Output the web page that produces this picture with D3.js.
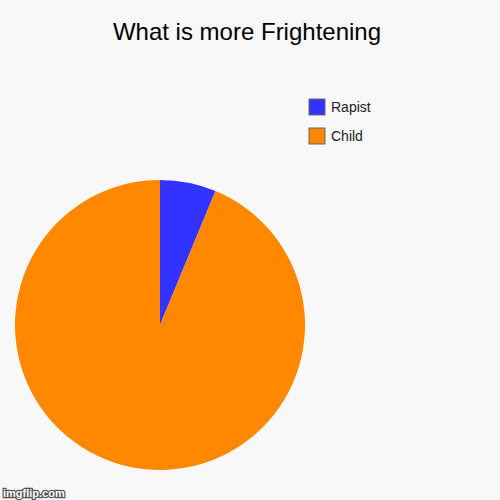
<!DOCTYPE html>
<html>
<head>
<meta charset="utf-8">
<script src="https://cdn.jsdelivr.net/npm/d3@7"></script>
<style>
  body { margin: 0; background: #f8f8f8; }
  svg { display: block; font-family: "Liberation Sans", Arial, sans-serif; }
</style>
</head>
<body>
<svg id="chart" width="500" height="500"></svg>
<script>
const labels = ["Rapist", "Child"];
const values = [1, 15];
const colors = ["#3333ff", "#ff8800"];

const svg = d3.select("#chart");
svg.append("rect").attr("width", 500).attr("height", 500).attr("fill", "#f8f8f8");

svg.append("text")
    .attr("x", 247).attr("y", 40)
    .attr("text-anchor", "middle")
    .style("font-size", "24px")
    .attr("fill", "#000")
    .text("What is more Frightening");

const pie = d3.pie().sort(null).value(d => d);
const arc = d3.arc().innerRadius(0).outerRadius(145);

const g = svg.append("g").attr("transform", "translate(160,325)");
g.selectAll("path")
    .data(pie(values))
    .enter().append("path")
    .attr("d", arc)
    .attr("fill", (d, i) => colors[i]);

const legend = svg.append("g").attr("transform", "translate(309,99)");
const item = legend.selectAll("g")
    .data(labels)
    .enter().append("g")
    .attr("transform", (d, i) => `translate(0,${i * 29})`);

item.append("rect")
    .attr("width", 16).attr("height", 16)
    .attr("fill", (d, i) => colors[i])
    .attr("stroke", "#666")
    .attr("stroke-width", 1);

item.append("text")
    .attr("x", 22).attr("y", 13)
    .style("font-size", "14px")
    .attr("fill", "#222")
    .text(d => d);

svg.append("text")
    .attr("x", 3).attr("y", 497)
    .style("font-size", "11px")
    .style("font-weight", "bold")
    .attr("fill", "#fff")
    .attr("stroke", "#555")
    .attr("stroke-width", 2.5)
    .attr("paint-order", "stroke")
    .text("imgflip.com");
</script>
</body>
</html>
